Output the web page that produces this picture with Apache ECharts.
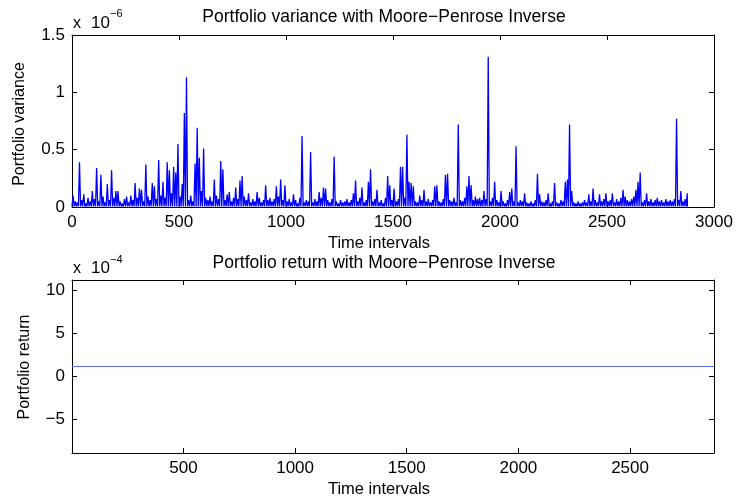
<!DOCTYPE html>
<html>
<head>
    <meta charset="UTF-8">
    <title>Portfolio variance / return</title>
    <script src="https://cdn.jsdelivr.net/npm/echarts@6/dist/echarts.min.js"></script>
    <style>
        html, body { margin: 0; padding: 0; background: #fff; }
        #main { width: 736px; height: 500px; }
    </style>
</head>
<body>
<div id="main"></div>
<script>
    // portfolio variance in units of 1e-6, highest value inside each 10-interval bin
    var binWidth = 10;
    var varFloor = 0.005;
    var varianceBins = [
        0.10, 0.05, 0.04, 0.39, 0.06, 0.11, 0.03, 0.08, 0.05, 0.14,
        0.07, 0.34, 0.05, 0.28, 0.09, 0.04, 0.20, 0.06, 0.32, 0.08,
        0.14, 0.14, 0.05, 0.03, 0.07, 0.09, 0.04, 0.10, 0.06, 0.21,
        0.08, 0.16, 0.15, 0.05, 0.37, 0.09, 0.06, 0.21, 0.18, 0.07,
        0.41, 0.10, 0.22, 0.08, 0.39, 0.32, 0.12, 0.35, 0.30, 0.55,
        0.09, 0.20, 0.82, 1.13, 0.06, 0.10, 0.05, 0.38, 0.69, 0.43,
        0.14, 0.51, 0.08, 0.06, 0.09, 0.05, 0.24, 0.10, 0.07, 0.40,
        0.33, 0.06, 0.11, 0.13, 0.05, 0.08, 0.17, 0.07, 0.23, 0.27,
        0.09, 0.06, 0.12, 0.04, 0.07, 0.05, 0.13, 0.08, 0.04, 0.06,
        0.19, 0.06, 0.08, 0.05, 0.07, 0.18, 0.09, 0.24, 0.06, 0.19,
        0.05, 0.07, 0.04, 0.11, 0.06, 0.03, 0.08, 0.62, 0.04, 0.06,
        0.05, 0.48, 0.04, 0.07, 0.05, 0.13, 0.08, 0.17, 0.16, 0.06,
        0.04, 0.07, 0.44, 0.05, 0.03, 0.06, 0.04, 0.05, 0.07, 0.04,
        0.06, 0.12, 0.23, 0.05, 0.08, 0.17, 0.04, 0.06, 0.22, 0.33,
        0.05, 0.07, 0.15, 0.04, 0.06, 0.03, 0.08, 0.27, 0.19, 0.06,
        0.16, 0.05, 0.07, 0.35, 0.35, 0.08, 0.63, 0.22, 0.21, 0.18,
        0.05, 0.04, 0.10, 0.06, 0.15, 0.05, 0.07, 0.04, 0.06, 0.18,
        0.19, 0.05, 0.04, 0.07, 0.28, 0.29, 0.06, 0.05, 0.08, 0.04,
        0.72, 0.06, 0.05, 0.08, 0.18, 0.27, 0.19, 0.06, 0.09, 0.07,
        0.08, 0.06, 0.14, 0.07, 1.31, 0.05, 0.08, 0.22, 0.06, 0.04,
        0.14, 0.05, 0.03, 0.06, 0.13, 0.16, 0.05, 0.53, 0.04, 0.06,
        0.05, 0.12, 0.04, 0.03, 0.05, 0.03, 0.06, 0.29, 0.11, 0.05,
        0.04, 0.06, 0.12, 0.03, 0.05, 0.21, 0.04, 0.03, 0.06, 0.05,
        0.22, 0.24, 0.72, 0.14, 0.04, 0.03, 0.05, 0.03, 0.04, 0.06,
        0.04, 0.11, 0.05, 0.16, 0.06, 0.04, 0.11, 0.05, 0.07, 0.12,
        0.05, 0.06, 0.12, 0.04, 0.07, 0.05, 0.08, 0.15, 0.09, 0.06,
        0.05, 0.07, 0.09, 0.15, 0.22, 0.30, 0.04, 0.06, 0.12, 0.05,
        0.07, 0.04, 0.06, 0.08, 0.05, 0.06, 0.04, 0.07, 0.05, 0.06,
        0.05, 0.07, 0.77, 0.06, 0.14, 0.05, 0.07, 0.12
    ];
    var nIntervals = 2876;

    // portfolio return in units of 1e-4 (flat over the whole period)
    var returnLevel = 1.15;
    var returnRange = [-8.85, 11.15];

    var timeTicks = [0, 500, 1000, 1500, 2000, 2500, 3000];
    var returnTimeTicks = [500, 1000, 1500, 2000, 2500];
    var varTicks = [0, 0.5, 1, 1.5];
    var returnTicks = [-5, 0, 5, 10];

    var font = 'Liberation Sans, Arial, sans-serif';

    // zigzag through bin lows and bin highs, like the dense matlab line
    var varPoints = [];
    varianceBins.forEach(function (v, k) {
        varPoints.push([k * binWidth, varFloor]);
        varPoints.push([k * binWidth + binWidth / 2, v]);
    });
    varPoints.push([nIntervals, varFloor]);

    function minus(v) {
        return String(v).replace('-', '\u2212');
    }

    function makeAxis(pos, grid, range, ticks, labels) {
        return {
            type: 'value',
            gridIndex: grid,
            position: pos,
            min: range[0],
            max: range[1],
            axisLine: { show: true, onZero: false, lineStyle: { color: '#000', width: 1 } },
            axisTick: { show: true, inside: true, length: 5, customValues: ticks, lineStyle: { color: '#000', width: 1 } },
            axisLabel: {
                show: labels, customValues: ticks, margin: 7, color: '#000',
                fontFamily: font, fontSize: 17, formatter: minus
            },
            splitLine: { show: false }
        };
    }

    function label(txt, x, y, size, rot, align) {
        return {
            type: 'text', x: x, y: y, rotation: rot || 0, silent: true,
            style: {
                text: txt, fill: '#000', font: size + 'px ' + font,
                textAlign: align || 'center', textVerticalAlign: 'middle'
            }
        };
    }

    var myChart = echarts.init(document.getElementById('main'), null, { renderer: 'canvas' });
    var option = {
        animation: false,
        backgroundColor: '#fff',
        grid: [
            { left: 72, top: 35, width: 642, height: 172, outerBoundsMode: 'none' },
            { left: 72, top: 280, width: 642, height: 173, outerBoundsMode: 'none' }
        ],
        xAxis: [
            makeAxis('bottom', 0, [0, 3000], timeTicks, true),
            makeAxis('top', 0, [0, 3000], timeTicks, false),
            makeAxis('bottom', 1, [1, nIntervals], returnTimeTicks, true),
            makeAxis('top', 1, [1, nIntervals], returnTimeTicks, false)
        ],
        yAxis: [
            makeAxis('left', 0, [0, 1.5], varTicks, true),
            makeAxis('right', 0, [0, 1.5], varTicks, false),
            makeAxis('left', 1, returnRange, returnTicks, true),
            makeAxis('right', 1, returnRange, returnTicks, false)
        ],
        series: [
            {
                name: 'Portfolio variance',
                type: 'line',
                xAxisIndex: 0,
                yAxisIndex: 0,
                data: varPoints,
                showSymbol: false,
                lineStyle: { color: '#0000ff', width: 1.3 }
            },
            {
                name: 'Portfolio return',
                type: 'line',
                xAxisIndex: 2,
                yAxisIndex: 2,
                data: [[1, returnLevel], [nIntervals, returnLevel]],
                showSymbol: false,
                lineStyle: { color: '#5a6af0', width: 1.2 }
            }
        ],
        graphic: [
            label('Portfolio variance with Moore\u2212Penrose Inverse', 384, 17.5, 17.5),
            label('Portfolio return with Moore\u2212Penrose Inverse', 384, 263, 17.5),
            label('Time intervals', 379, 243, 16.5),
            label('Time intervals', 379, 489, 16.5),
            label('Portfolio variance', 19.5, 124, 16, Math.PI / 2),
            label('Portfolio return', 24.5, 367, 16, Math.PI / 2),
            label('x', 73, 23.7, 16, 0, 'left'),
            label('10', 110, 23.7, 17, 0, 'right'),
            label('\u22126', 110, 13.7, 11, 0, 'left'),
            label('x', 73, 268.3, 16, 0, 'left'),
            label('10', 110, 268.3, 17, 0, 'right'),
            label('\u22124', 110, 260.3, 11, 0, 'left')
        ]
    };
    myChart.setOption(option);
</script>
</body>
</html>
